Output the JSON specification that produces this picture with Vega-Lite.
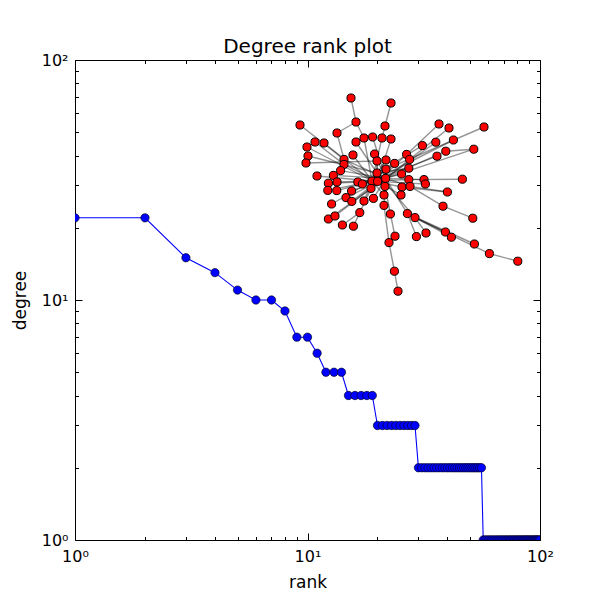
{
  "$schema": "https://vega.github.io/schema/vega-lite/v6.json",
  "width": 465,
  "height": 480,
  "autosize": {"type": "none"},
  "padding": {"left": 75, "top": 60, "right": 60, "bottom": 60},
  "background": "white",
  "title": {"text": "Degree rank plot", "fontSize": 20, "font": "DejaVu Sans", "fontWeight": "normal", "color": "black", "offset": -5},
  "config": {
    "view": {"stroke": "black", "strokeWidth": 1},
    "axis": {"labelFont": "DejaVu Sans", "titleFont": "DejaVu Sans", "labelColor": "black", "titleColor": "black", "tickColor": "black", "domainColor": "black", "grid": false, "labelFontSize": 16, "titleFontSize": 17, "titleFontWeight": "normal"}
  },
  "datasets": {
    "ranks": [
      {"rank": 1, "degree": 22}, {"rank": 2, "degree": 22}, {"rank": 3, "degree": 15}, {"rank": 4, "degree": 13},
      {"rank": 5, "degree": 11}, {"rank": 6, "degree": 10}, {"rank": 7, "degree": 10}, {"rank": 8, "degree": 9},
      {"rank": 9, "degree": 7}, {"rank": 10, "degree": 7}, {"rank": 11, "degree": 6}, {"rank": 12, "degree": 5},
      {"rank": 13, "degree": 5}, {"rank": 14, "degree": 5}, {"rank": 15, "degree": 4}, {"rank": 16, "degree": 4},
      {"rank": 17, "degree": 4}, {"rank": 18, "degree": 4}, {"rank": 19, "degree": 4}, {"rank": 20, "degree": 3},
      {"rank": 21, "degree": 3}, {"rank": 22, "degree": 3}, {"rank": 23, "degree": 3}, {"rank": 24, "degree": 3},
      {"rank": 25, "degree": 3}, {"rank": 26, "degree": 3}, {"rank": 27, "degree": 3}, {"rank": 28, "degree": 3},
      {"rank": 29, "degree": 3}, {"rank": 30, "degree": 2}, {"rank": 31, "degree": 2}, {"rank": 32, "degree": 2},
      {"rank": 33, "degree": 2}, {"rank": 34, "degree": 2}, {"rank": 35, "degree": 2}, {"rank": 36, "degree": 2},
      {"rank": 37, "degree": 2}, {"rank": 38, "degree": 2}, {"rank": 39, "degree": 2}, {"rank": 40, "degree": 2},
      {"rank": 41, "degree": 2}, {"rank": 42, "degree": 2}, {"rank": 43, "degree": 2}, {"rank": 44, "degree": 2},
      {"rank": 45, "degree": 2}, {"rank": 46, "degree": 2}, {"rank": 47, "degree": 2}, {"rank": 48, "degree": 2},
      {"rank": 49, "degree": 2}, {"rank": 50, "degree": 2}, {"rank": 51, "degree": 2}, {"rank": 52, "degree": 2},
      {"rank": 53, "degree": 2}, {"rank": 54, "degree": 2}, {"rank": 55, "degree": 2}, {"rank": 56, "degree": 2},
      {"rank": 57, "degree": 1}, {"rank": 58, "degree": 1}, {"rank": 59, "degree": 1}, {"rank": 60, "degree": 1},
      {"rank": 61, "degree": 1}, {"rank": 62, "degree": 1}, {"rank": 63, "degree": 1}, {"rank": 64, "degree": 1},
      {"rank": 65, "degree": 1}, {"rank": 66, "degree": 1}, {"rank": 67, "degree": 1}, {"rank": 68, "degree": 1},
      {"rank": 69, "degree": 1}, {"rank": 70, "degree": 1}, {"rank": 71, "degree": 1}, {"rank": 72, "degree": 1},
      {"rank": 73, "degree": 1}, {"rank": 74, "degree": 1}, {"rank": 75, "degree": 1}, {"rank": 76, "degree": 1},
      {"rank": 77, "degree": 1}, {"rank": 78, "degree": 1}, {"rank": 79, "degree": 1}, {"rank": 80, "degree": 1},
      {"rank": 81, "degree": 1}, {"rank": 82, "degree": 1}, {"rank": 83, "degree": 1}, {"rank": 84, "degree": 1},
      {"rank": 85, "degree": 1}, {"rank": 86, "degree": 1}, {"rank": 87, "degree": 1}, {"rank": 88, "degree": 1},
      {"rank": 89, "degree": 1}, {"rank": 90, "degree": 1}, {"rank": 91, "degree": 1}, {"rank": 92, "degree": 1},
      {"rank": 93, "degree": 1}, {"rank": 94, "degree": 1}, {"rank": 95, "degree": 1}, {"rank": 96, "degree": 1},
      {"rank": 97, "degree": 1}, {"rank": 98, "degree": 1}, {"rank": 99, "degree": 1}, {"rank": 100, "degree": 1}
    ],
    "nodes": [
      {"id": 1, "x": 0.255, "y": 1.010}, {"id": 2, "x": 0.455, "y": 0.985}, {"id": 3, "x": 0.280, "y": 0.890},
      {"id": 4, "x": 0.000, "y": 0.875}, {"id": 5, "x": 0.185, "y": 0.835}, {"id": 6, "x": 0.425, "y": 0.870},
      {"id": 7, "x": 0.695, "y": 0.880}, {"id": 8, "x": 0.745, "y": 0.860}, {"id": 9, "x": 0.920, "y": 0.865},
      {"id": 10, "x": 0.320, "y": 0.810}, {"id": 11, "x": 0.363, "y": 0.815}, {"id": 12, "x": 0.410, "y": 0.810},
      {"id": 13, "x": 0.455, "y": 0.805}, {"id": 14, "x": 0.075, "y": 0.790}, {"id": 15, "x": 0.120, "y": 0.785},
      {"id": 16, "x": 0.280, "y": 0.790}, {"id": 17, "x": 0.035, "y": 0.765}, {"id": 18, "x": 0.040, "y": 0.720},
      {"id": 19, "x": 0.030, "y": 0.685}, {"id": 20, "x": 0.265, "y": 0.725}, {"id": 21, "x": 0.373, "y": 0.730},
      {"id": 22, "x": 0.385, "y": 0.695}, {"id": 23, "x": 0.430, "y": 0.700}, {"id": 24, "x": 0.473, "y": 0.683},
      {"id": 25, "x": 0.220, "y": 0.703}, {"id": 26, "x": 0.220, "y": 0.678}, {"id": 27, "x": 0.203, "y": 0.647},
      {"id": 28, "x": 0.085, "y": 0.620}, {"id": 29, "x": 0.167, "y": 0.623}, {"id": 30, "x": 0.430, "y": 0.654},
      {"id": 31, "x": 0.385, "y": 0.635}, {"id": 32, "x": 0.360, "y": 0.595}, {"id": 33, "x": 0.428, "y": 0.608},
      {"id": 34, "x": 0.142, "y": 0.584}, {"id": 35, "x": 0.185, "y": 0.590}, {"id": 36, "x": 0.289, "y": 0.590},
      {"id": 37, "x": 0.312, "y": 0.580}, {"id": 38, "x": 0.388, "y": 0.593}, {"id": 39, "x": 0.425, "y": 0.568},
      {"id": 40, "x": 0.139, "y": 0.548}, {"id": 41, "x": 0.184, "y": 0.547}, {"id": 42, "x": 0.258, "y": 0.545},
      {"id": 43, "x": 0.355, "y": 0.558}, {"id": 44, "x": 0.420, "y": 0.525}, {"id": 45, "x": 0.230, "y": 0.512},
      {"id": 46, "x": 0.259, "y": 0.493}, {"id": 47, "x": 0.320, "y": 0.495}, {"id": 48, "x": 0.367, "y": 0.508},
      {"id": 49, "x": 0.158, "y": 0.480}, {"id": 50, "x": 0.420, "y": 0.473}, {"id": 51, "x": 0.142, "y": 0.405},
      {"id": 52, "x": 0.175, "y": 0.420}, {"id": 53, "x": 0.299, "y": 0.437}, {"id": 54, "x": 0.452, "y": 0.430},
      {"id": 55, "x": 0.537, "y": 0.432}, {"id": 56, "x": 0.575, "y": 0.412}, {"id": 57, "x": 0.212, "y": 0.375},
      {"id": 58, "x": 0.267, "y": 0.369}, {"id": 59, "x": 0.475, "y": 0.319}, {"id": 60, "x": 0.445, "y": 0.287},
      {"id": 61, "x": 0.582, "y": 0.317}, {"id": 62, "x": 0.630, "y": 0.335}, {"id": 63, "x": 0.472, "y": 0.144},
      {"id": 64, "x": 0.490, "y": 0.044}, {"id": 65, "x": 0.612, "y": 0.772}, {"id": 66, "x": 0.679, "y": 0.789},
      {"id": 67, "x": 0.767, "y": 0.800}, {"id": 68, "x": 0.729, "y": 0.744}, {"id": 69, "x": 0.685, "y": 0.719},
      {"id": 70, "x": 0.869, "y": 0.754}, {"id": 71, "x": 0.533, "y": 0.728}, {"id": 72, "x": 0.548, "y": 0.703},
      {"id": 73, "x": 0.544, "y": 0.659}, {"id": 74, "x": 0.508, "y": 0.630}, {"id": 75, "x": 0.544, "y": 0.602},
      {"id": 76, "x": 0.620, "y": 0.602}, {"id": 77, "x": 0.627, "y": 0.580}, {"id": 78, "x": 0.812, "y": 0.604},
      {"id": 79, "x": 0.510, "y": 0.565}, {"id": 80, "x": 0.550, "y": 0.568}, {"id": 81, "x": 0.737, "y": 0.540},
      {"id": 82, "x": 0.505, "y": 0.525}, {"id": 83, "x": 0.715, "y": 0.469}, {"id": 84, "x": 0.864, "y": 0.409},
      {"id": 85, "x": 0.727, "y": 0.340}, {"id": 86, "x": 0.757, "y": 0.314}, {"id": 87, "x": 0.872, "y": 0.280},
      {"id": 88, "x": 0.947, "y": 0.232}, {"id": 89, "x": 1.089, "y": 0.194}
    ],
    "edges": [
      {"s": 1, "t": 3}, {"s": 3, "t": 5}, {"s": 3, "t": 10}, {"s": 2, "t": 6}, {"s": 6, "t": 12}, {"s": 5, "t": 25},
      {"s": 4, "t": 25}, {"s": 14, "t": 26}, {"s": 15, "t": 32}, {"s": 17, "t": 32}, {"s": 18, "t": 31}, {"s": 19, "t": 22},
      {"s": 20, "t": 32}, {"s": 16, "t": 31}, {"s": 10, "t": 32}, {"s": 11, "t": 33}, {"s": 12, "t": 32}, {"s": 13, "t": 38},
      {"s": 21, "t": 33}, {"s": 22, "t": 38}, {"s": 23, "t": 32}, {"s": 24, "t": 32}, {"s": 25, "t": 33}, {"s": 26, "t": 38},
      {"s": 27, "t": 33}, {"s": 28, "t": 32}, {"s": 29, "t": 33}, {"s": 34, "t": 38}, {"s": 35, "t": 32}, {"s": 36, "t": 33},
      {"s": 37, "t": 33}, {"s": 40, "t": 33}, {"s": 41, "t": 32}, {"s": 42, "t": 38}, {"s": 45, "t": 33}, {"s": 46, "t": 38},
      {"s": 47, "t": 32}, {"s": 48, "t": 33}, {"s": 49, "t": 32}, {"s": 51, "t": 33}, {"s": 52, "t": 43}, {"s": 53, "t": 43},
      {"s": 57, "t": 53}, {"s": 58, "t": 53}, {"s": 50, "t": 39}, {"s": 54, "t": 39}, {"s": 60, "t": 50}, {"s": 59, "t": 54},
      {"s": 63, "t": 60}, {"s": 64, "t": 63}, {"s": 55, "t": 33}, {"s": 56, "t": 31}, {"s": 55, "t": 85}, {"s": 55, "t": 87},
      {"s": 56, "t": 86}, {"s": 56, "t": 88}, {"s": 88, "t": 89}, {"s": 61, "t": 55}, {"s": 62, "t": 56}, {"s": 83, "t": 80},
      {"s": 84, "t": 83}, {"s": 81, "t": 80}, {"s": 81, "t": 79}, {"s": 78, "t": 75}, {"s": 76, "t": 33}, {"s": 77, "t": 38},
      {"s": 75, "t": 32}, {"s": 79, "t": 32}, {"s": 80, "t": 33}, {"s": 82, "t": 38}, {"s": 74, "t": 32}, {"s": 73, "t": 31},
      {"s": 71, "t": 38}, {"s": 72, "t": 33}, {"s": 7, "t": 71}, {"s": 8, "t": 72}, {"s": 9, "t": 30}, {"s": 66, "t": 33},
      {"s": 67, "t": 32}, {"s": 65, "t": 31}, {"s": 68, "t": 38}, {"s": 69, "t": 32}, {"s": 70, "t": 68}, {"s": 70, "t": 33},
      {"s": 32, "t": 33}, {"s": 32, "t": 38}, {"s": 33, "t": 31}, {"s": 38, "t": 43}, {"s": 39, "t": 33}, {"s": 31, "t": 32},
      {"s": 43, "t": 33}, {"s": 22, "t": 31}, {"s": 30, "t": 33}, {"s": 30, "t": 32}, {"s": 44, "t": 32}, {"s": 44, "t": 33}
    ]
  },
  "layer": [
    {
      "data": {"name": "ranks"},
      "layer": [
        {
          "mark": {"type": "line", "color": "#0000ff", "strokeWidth": 1.1, "clip": true},
          "encoding": {
            "x": {"field": "rank", "type": "quantitative", "scale": {"type": "log", "domain": [1, 100]},
                  "axis": {"orient": "bottom", "values": [1, 10, 100], "labelExpr": "datum.value == 1 ? '10⁰' : datum.value == 10 ? '10¹' : '10²'", "title": "rank", "tickSize": -7, "labelPadding": 15, "titlePadding": 10, "domain": false, "labelFlush": false}},
            "y": {"field": "degree", "type": "quantitative", "scale": {"type": "log", "domain": [1, 100]},
                  "axis": {"orient": "left", "values": [1, 10, 100], "labelExpr": "datum.value == 1 ? '10⁰' : datum.value == 10 ? '10¹' : '10²'", "title": "degree", "tickSize": -7, "labelPadding": 14, "titlePadding": 12, "domain": false, "labelFlush": false}}
          }
        },
        {
          "mark": {"type": "point", "shape": "circle", "filled": true, "fill": "#0000ff", "stroke": "black", "strokeWidth": 0.6, "size": 70, "opacity": 1, "clip": true},
          "encoding": {
            "x": {"field": "rank", "type": "quantitative", "scale": {"type": "log", "domain": [1, 100]},
                  "axis": {"orient": "top", "values": [1, 10, 100], "labels": false, "title": null, "tickSize": -7, "domain": false}},
            "y": {"field": "degree", "type": "quantitative", "scale": {"type": "log", "domain": [1, 100]},
                  "axis": {"orient": "right", "values": [1, 10, 100], "labels": false, "title": null, "tickSize": -7, "domain": false}}
          }
        },
        {
          "mark": {"type": "point", "opacity": 0, "clip": true},
          "encoding": {
            "x": {"field": "rank", "type": "quantitative", "scale": {"type": "log", "domain": [1, 100]},
                  "axis": {"orient": "bottom", "values": [2, 3, 4, 5, 6, 7, 8, 9, 20, 30, 40, 50, 60, 70, 80, 90], "labels": false, "title": null, "tickSize": -3.5, "domain": false}},
            "y": {"field": "degree", "type": "quantitative", "scale": {"type": "log", "domain": [1, 100]},
                  "axis": {"orient": "left", "values": [2, 3, 4, 5, 6, 7, 8, 9, 20, 30, 40, 50, 60, 70, 80, 90], "labels": false, "title": null, "tickSize": -3.5, "domain": false}}
          }
        },
        {
          "mark": {"type": "point", "opacity": 0, "clip": true},
          "encoding": {
            "x": {"field": "rank", "type": "quantitative", "scale": {"type": "log", "domain": [1, 100]},
                  "axis": {"orient": "top", "values": [2, 3, 4, 5, 6, 7, 8, 9, 20, 30, 40, 50, 60, 70, 80, 90], "labels": false, "title": null, "tickSize": -3.5, "domain": false}},
            "y": {"field": "degree", "type": "quantitative", "scale": {"type": "log", "domain": [1, 100]},
                  "axis": {"orient": "right", "values": [2, 3, 4, 5, 6, 7, 8, 9, 20, 30, 40, 50, 60, 70, 80, 90], "labels": false, "title": null, "tickSize": -3.5, "domain": false}}
          }
        }
      ],
      "resolve": {"axis": {"x": "independent", "y": "independent"}}
    },
    {
      "layer": [
        {
          "data": {"name": "edges"},
          "transform": [
            {"lookup": "s", "from": {"data": {"name": "nodes"}, "key": "id", "fields": ["x", "y"]}, "as": ["sx", "sy"]},
            {"lookup": "t", "from": {"data": {"name": "nodes"}, "key": "id", "fields": ["x", "y"]}, "as": ["tx", "ty"]}
          ],
          "mark": {"type": "rule", "color": "black", "opacity": 0.42, "strokeWidth": 1.4},
          "encoding": {
            "x": {"field": "sx", "type": "quantitative", "scale": {"domain": [-1.125, 1.2], "nice": false, "zero": false}, "axis": null},
            "y": {"field": "sy", "type": "quantitative", "scale": {"domain": [-1.2, 1.2], "nice": false, "zero": false}, "axis": null},
            "x2": {"field": "tx"},
            "y2": {"field": "ty"}
          }
        },
        {
          "data": {"name": "nodes"},
          "mark": {"type": "point", "shape": "circle", "filled": true, "fill": "#ff0000", "stroke": "black", "strokeWidth": 1, "size": 66, "opacity": 1},
          "encoding": {
            "x": {"field": "x", "type": "quantitative", "scale": {"domain": [-1.125, 1.2], "nice": false, "zero": false}, "axis": null},
            "y": {"field": "y", "type": "quantitative", "scale": {"domain": [-1.2, 1.2], "nice": false, "zero": false}, "axis": null}
          }
        }
      ]
    }
  ],
  "resolve": {"scale": {"x": "independent", "y": "independent"}, "axis": {"x": "independent", "y": "independent"}}
}
